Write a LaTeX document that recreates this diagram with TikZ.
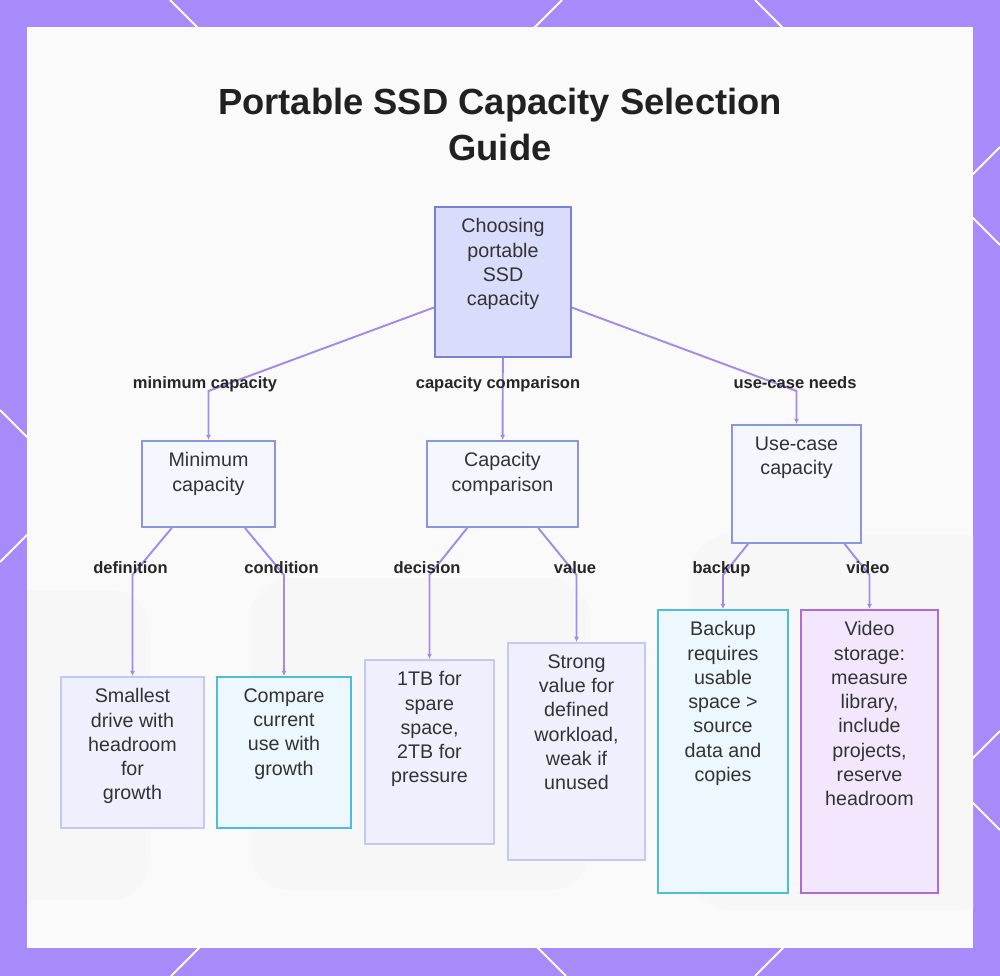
\documentclass[tikz,border=0pt]{standalone}
\usepackage{fontspec}
\setmainfont{Liberation Sans}
\usetikzlibrary{positioning,arrows.meta}

\definecolor{framec}{HTML}{A78BFA}
\definecolor{edgec}{HTML}{A28CE8}
\definecolor{rootfill}{HTML}{D9DCFB}
\definecolor{rootline}{HTML}{7880D8}
\definecolor{midfill}{HTML}{F5F7FF}
\definecolor{midline}{HTML}{8A96E2}
\definecolor{lavfill}{HTML}{EEF0FD}
\definecolor{lavline}{HTML}{C3C9F2}
\definecolor{cyanfill}{HTML}{ECF8FE}
\definecolor{cyanline}{HTML}{4CBEDB}
\definecolor{violfill}{HTML}{F3E7FD}
\definecolor{violline}{HTML}{B06AD8}
\definecolor{inkc}{HTML}{333333}

\tikzset{
  rootbox/.style={draw=rootline, fill=rootfill, line width=1.1pt},
  midbox/.style={draw=midline, fill=midfill, line width=1.1pt},
  lavbox/.style={draw=lavline, fill=lavfill, line width=1.1pt},
  cyanbox/.style={draw=cyanline, fill=cyanfill, line width=1.1pt},
  violbox/.style={draw=violline, fill=violfill, line width=1.1pt},
  txt/.style={align=center, inner sep=0pt, text=inkc, font=\fontsize{11.2}{13.8}\selectfont},
  elabel/.style={anchor=base, inner sep=0pt, text=black!85, font=\bfseries\fontsize{9.4}{11}\selectfont},
  link/.style={draw=edgec, line width=1.1pt, -{Latex[length=3pt,width=3pt]}}
}

\begin{document}
\begin{tikzpicture}[x=0.02cm,y=-0.02cm]
\useasboundingbox (0,0) rectangle (1000,976);

% frame
\fill[framec] (0,0) rectangle (1000,976);
\begin{scope}
\clip (0,0) rectangle (1000,976);
\draw[white, line width=1.1pt] (170,0) -- (1000,830);
\draw[white, line width=1.1pt] (755,0) -- (1000,245);
\draw[white, line width=1.1pt] (0,410) -- (566,976);
\draw[white, line width=1.1pt] (562,0) -- (0,562);
\draw[white, line width=1.1pt] (1000,147) -- (171,976);
\draw[white, line width=1.1pt] (1000,731) -- (755,976);
\end{scope}
\fill[white!98!black] (27,27) rectangle (973,948);

% faded backdrop
\begin{scope}
\clip (27,27) rectangle (973,948);
\fill[black!3, rounded corners=0.8cm] (-40,590) rectangle (150,900);
\fill[black!3, rounded corners=0.8cm] (250,578) rectangle (590,890);
\fill[black!3, rounded corners=0.8cm] (690,535) rectangle (1000,910);
\end{scope}

% title
\node[anchor=north, align=center, inner sep=0pt, text=black!87,
  font=\bfseries\fontsize{20.7}{26.1}\selectfont] (title) at (500,87.5)
  {Portable SSD Capacity Selection\\Guide};

% boxes
\node[rootbox, minimum width=2.72cm, minimum height=3.0cm] (root) at (503,282) {};
\node[midbox, minimum width=2.66cm, minimum height=1.72cm] (minc) at (208.5,484) {};
\node[midbox, minimum width=3.02cm, minimum height=1.72cm] (compc) at (502.5,484) {};
\node[midbox, minimum width=2.58cm, minimum height=2.36cm] (usec) at (796.5,484) {};
\node[lavbox, minimum width=2.86cm, minimum height=3.02cm] (smallest) at (132.5,752.5) {};
\node[cyanbox, minimum width=2.68cm, minimum height=3.02cm] (compare) at (284,752.5) {};
\node[lavbox, minimum width=2.58cm, minimum height=3.68cm] (onetb) at (429.5,752) {};
\node[lavbox, minimum width=2.74cm, minimum height=4.34cm] (strong) at (576.5,751.5) {};
\node[cyanbox, minimum width=2.6cm, minimum height=5.66cm] (backupn) at (723,751.5) {};
\node[violbox, minimum width=2.74cm, minimum height=5.66cm] (videon) at (869.5,751.5) {};

% box texts
\node[txt, below=7pt of root.north] (rootT) {Choosing\\portable\\SSD\\capacity};
\node[txt, below=7pt of minc.north] (mincT) {Minimum\\capacity};
\node[txt, below=7pt of compc.north] (compcT) {Capacity\\comparison};
\node[txt, below=7pt of usec.north] (usecT) {Use-case\\capacity};
\node[txt, below=7pt of smallest.north] (smallestT) {Smallest\\drive with\\headroom\\for\\growth};
\node[txt, below=7pt of compare.north] (compareT) {Compare\\current\\use with\\growth};
\node[txt, below=7pt of onetb.north] (onetbT) {1TB for\\spare\\space,\\2TB for\\pressure};
\node[txt, below=7pt of strong.north] (strongT) {Strong\\value for\\defined\\workload,\\weak if\\unused};
\node[txt, below=7pt of backupn.north] (backupT) {Backup\\requires\\usable\\space >\\source\\data and\\copies};
\node[txt, below=7pt of videon.north] (videoT) {Video\\storage:\\measure\\library,\\include\\projects,\\reserve\\headroom};

% bends
\coordinate (bmin) at (208.5,391);
\coordinate (buse) at (796.5,391);
\coordinate (bsmall) at (132.5,575);
\coordinate (bcomp) at (284,575);
\coordinate (bone) at (429.5,575);
\coordinate (bstrong) at (576.5,575);
\coordinate (bback) at (723,575);
\coordinate (bvid) at (869.5,575);

% connectors
\draw[link] (root) -- (bmin) -- (minc);
\draw[link] (root) -- (compc);
\draw[link] (root) -- (buse) -- (usec);
\draw[link] (minc) -- (bsmall) -- (smallest);
\draw[link] (minc) -- (bcomp) -- (compare);
\draw[link] (compc) -- (bone) -- (onetb);
\draw[link] (compc) -- (bstrong) -- (strong);
\draw[link] (usec) -- (bback) -- (backupn);
\draw[link] (usec) -- (bvid) -- (videon);

% connector labels
\node[elabel] (lmin) at (205,388) {minimum capacity};
\node[elabel] (lcomp) at (498,388) {capacity comparison};
\node[elabel] (luse) at (795,388) {use-case needs};
\node[elabel] (ldef) at (130.5,573) {definition};
\node[elabel] (lcond) at (281.5,573) {condition};
\node[elabel] (ldec) at (427,573) {decision};
\node[elabel] (lval) at (575,573) {value};
\node[elabel] (lback) at (721.5,573) {backup};
\node[elabel] (lvid) at (868,573) {video};
\end{tikzpicture}
\end{document}
